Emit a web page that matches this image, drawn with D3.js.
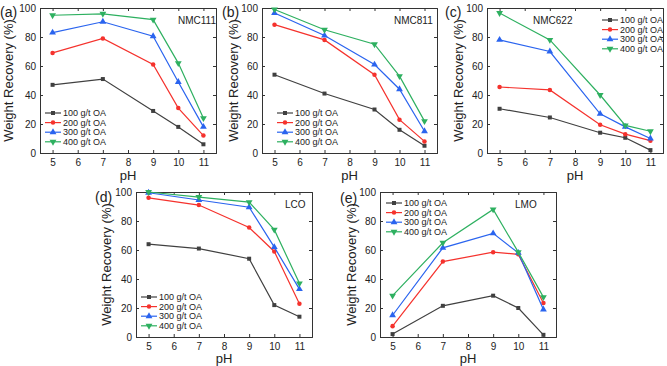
<!DOCTYPE html>
<html><head><meta charset="utf-8">
<script src="https://cdn.jsdelivr.net/npm/d3@7"></script>
<style>body{margin:0;background:#fff;}svg{display:block;font-family:"Liberation Sans",Arial,sans-serif;}</style>
</head><body>
<svg id="chart" width="667" height="366"></svg>
<script>
const pH = [5, 7, 9, 10, 11];
const xTicks = [5, 6, 7, 8, 9, 10, 11];
const yTicks = [0, 20, 40, 60, 80, 100];
const seriesNames = ["100 g/t OA", "200 g/t OA", "300 g/t OA", "400 g/t OA"];
const colors = ["#404040", "#f5322d", "#2a64ef", "#2eb060"];
const shapes = [d3.symbolSquare, d3.symbolCircle, d3.symbolTriangle, "down"];

const nmc111 = [[47, 51, 29, 18, 6], [69, 79, 61, 31, 12], [83, 90.5, 80.5, 49, 18], [95, 96, 92, 62, 24]];
const nmc811 = [[54, 41, 30, 16, 5], [88.5, 78, 54, 23, 8], [96.5, 81, 61, 44, 15], [99, 85, 75, 53, 22]];
const nmc622 = [[30.5, 24.5, 14, 10.5, 2], [45.5, 43.5, 19.5, 13, 8.5], [78, 70, 27, 18, 10], [96.5, 78, 40, 19, 15]];
const lco = [[64, 61, 54, 22, 14], [96, 91, 75.5, 59, 23], [99.5, 94.5, 89.5, 62, 33], [100, 96.5, 93, 74, 37]];
const lmo = [[2, 21.5, 28.5, 20, 1.5], [7.5, 52, 58.5, 57, 23.5], [15, 61.5, 71.5, 58, 19], [28.5, 65, 88, 58.5, 27.5]];

const panels = [
  {tag: "(a)", name: "NMC111", data: nmc111, box: [40, 8, 216, 153], tagPos: [0, 17], namePos: [178, 24], leg: [45, 113], yTitleX: 13, pHY: 180},
  {tag: "(b)", name: "NMC811", data: nmc811, box: [262, 8, 437, 153], tagPos: [222, 17], namePos: [394, 24], leg: [277, 113], yTitleX: 238, pHY: 180},
  {tag: "(c)", name: "NMC622", data: nmc622, box: [487, 8, 663, 153], tagPos: [445, 17], namePos: [533, 24], leg: [602, 20], yTitleX: 463, pHY: 180},
  {tag: "(d)", name: "LCO", data: lco, box: [136, 192, 312, 337], tagPos: [95, 202], namePos: [285, 208], leg: [141, 297], yTitleX: 111, pHY: 363},
  {tag: "(e)", name: "LMO", data: lmo, box: [380, 192, 556, 337], tagPos: [340, 203], namePos: [515, 208], leg: [386, 203], yTitleX: 356, pHY: 363}
];

const svg = d3.select("#chart");
const frameCol = "#333";

function marker(g, shape, x, y, col) {
  if (shape === "down") {
    g.append("path").attr("d", d3.symbol(d3.symbolTriangle, 20)())
      .attr("transform", `translate(${x},${y}) rotate(180)`).attr("fill", col);
  } else {
    const size = shape === d3.symbolTriangle ? 20 : 16;
    g.append("path").attr("d", d3.symbol(shape, size)())
      .attr("transform", `translate(${x},${y})`).attr("fill", col);
  }
}

panels.forEach(p => {
  const [l, t, r, b] = p.box;
  const x = d3.scaleLinear().domain([4.5, 11.5]).range([l, r]);
  const y = d3.scaleLinear().domain([0, 100]).range([b, t]);
  const g = svg.append("g");

  const bottom = g.append("g").attr("transform", `translate(0,${b})`)
    .call(d3.axisBottom(x).tickValues(xTicks).tickSize(-3).tickPadding(6).tickFormat(d3.format("d")));
  const left = g.append("g").attr("transform", `translate(${l},0)`)
    .call(d3.axisLeft(y).tickValues(yTicks).tickSize(-3).tickPadding(4));
  const top = g.append("g").attr("transform", `translate(0,${t})`)
    .call(d3.axisTop(x).tickValues(xTicks).tickSize(-3).tickFormat(""));
  const right = g.append("g").attr("transform", `translate(${r},0)`)
    .call(d3.axisRight(y).tickValues(yTicks).tickSize(-3).tickFormat(""));
  [bottom, left, top, right].forEach(a => {
    a.select(".domain").attr("stroke", frameCol).attr("stroke-width", 1);
    a.selectAll(".tick line").attr("stroke", frameCol);
    a.selectAll(".tick text").attr("fill", "#222").attr("font-size", 10).attr("font-family", "Liberation Sans, Arial, sans-serif");
  });

  const line = d3.line().x((d, i) => x(pH[i])).y(d => y(d));
  p.data.forEach((vals, si) => {
    g.append("path").datum(vals).attr("d", line).attr("fill", "none")
      .attr("stroke", colors[si]).attr("stroke-width", 1.2);
    vals.forEach((v, i) => marker(g, shapes[si], x(pH[i]), y(v), colors[si]));
  });

  seriesNames.forEach((n, si) => {
    const ly = p.leg[1] + si * 9.6;
    g.append("line").attr("x1", p.leg[0]).attr("x2", p.leg[0] + 16).attr("y1", ly).attr("y2", ly)
      .attr("stroke", colors[si]).attr("stroke-width", 1.2);
    marker(g, shapes[si], p.leg[0] + 8, ly, colors[si]);
    g.append("text").attr("x", p.leg[0] + 18).attr("y", ly + 3.2).attr("font-size", 9).attr("fill", "#222").text(n);
  });

  g.append("text").attr("x", p.namePos[0]).attr("y", p.namePos[1]).attr("font-size", 10).attr("fill", "#222").text(p.name);
  g.append("text").attr("x", p.tagPos[0]).attr("y", p.tagPos[1]).attr("font-size", 14).attr("fill", "#222").text(p.tag);
  g.append("text").attr("x", (l + r) / 2).attr("y", p.pHY).attr("text-anchor", "middle").attr("font-size", 13).attr("fill", "#222").text("pH");
  g.append("text").attr("transform", `translate(${p.yTitleX},${(t + b) / 2}) rotate(-90)`)
    .attr("text-anchor", "middle").attr("font-size", 13).attr("fill", "#222").text("Weight Recovery (%)");
});
</script>
</body></html>
